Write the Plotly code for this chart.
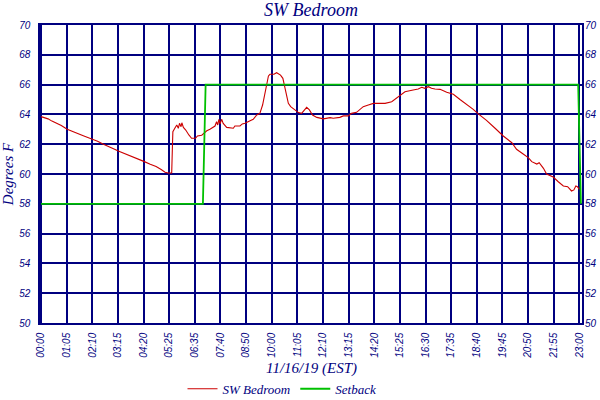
import plotly.graph_objects as go

# time of day in minutes after midnight, temperature in degrees F
sw_minutes = [0, 8, 18, 28, 40, 52, 67, 80, 95, 110, 125, 131, 145, 160, 175, 190, 198,
              212, 225, 240, 255, 265, 280, 295, 308, 318, 326, 335, 337, 338, 343, 348,
              352, 355, 359, 361, 365, 371, 379, 386, 396, 401, 412, 418, 425, 433, 442,
              446, 450, 453, 456, 459, 463, 467, 476, 489, 493, 497, 510, 516, 523, 536,
              544, 553, 561, 568, 574, 579, 583, 587, 597, 604, 614, 620, 625, 630, 634,
              640, 651, 660, 668, 677, 681, 688, 696, 707, 715, 724, 741, 749, 766, 775,
              788, 796, 809, 818, 826, 839, 852, 869, 882, 899, 907, 920, 933, 954, 967,
              976, 984, 993, 1001, 1010, 1023, 1040, 1057, 1074, 1091, 1108, 1121, 1142,
              1164, 1185, 1207, 1219, 1236, 1249, 1258, 1271, 1277, 1288, 1296, 1313,
              1326, 1339, 1350, 1360, 1366, 1371, 1375, 1380]
sw_temp = [63.85, 63.78, 63.7, 63.55, 63.4, 63.25, 63.0, 62.85, 62.7, 62.55, 62.4, 62.35,
           62.2, 62.0, 61.85, 61.65, 61.54, 61.4, 61.25, 61.1, 60.95, 60.83, 60.65, 60.5,
           60.3, 60.12, 60.07, 60.07, 62.0, 62.84, 63.07, 63.29, 63.07, 63.4, 63.17, 63.44,
           63.13, 62.95, 62.62, 62.4, 62.4, 62.55, 62.6, 62.73, 62.9, 63.0, 63.13, 63.22,
           63.51, 63.29, 63.67, 63.36, 63.67, 63.4, 63.13, 63.07, 63.07, 63.22, 63.22,
           63.36, 63.4, 63.58, 63.67, 63.96, 64.07, 64.63, 65.41, 66.09, 66.58, 66.69,
           66.69, 66.8, 66.64, 66.42, 65.86, 65.19, 64.74, 64.52, 64.3, 64.12, 64.07,
           64.34, 64.47, 64.3, 63.96, 63.8, 63.74, 63.7, 63.78, 63.74, 63.8, 63.9, 63.9,
           64.07, 64.14, 64.34, 64.52, 64.63, 64.74, 64.74, 64.74, 64.85, 65.0, 65.3,
           65.52, 65.64, 65.7, 65.82, 65.75, 65.86, 65.75, 65.7, 65.68, 65.48, 65.35,
           65.0, 64.68, 64.34, 64.03, 63.6, 63.07, 62.55, 62.1, 61.66, 61.34, 61.1,
           60.83, 60.67, 60.76, 60.38, 60.0, 59.8, 59.48, 59.2, 59.15, 58.86, 58.93,
           59.2, 59.15, 58.97]

setback_minutes = [0, 415, 422, 1377, 1384]
setback_temp = [58, 58, 66, 66, 58]

tick_labels = ['00:00', '01:05', '02:10', '03:15', '04:20', '05:25', '06:35', '07:40',
               '08:50', '10:00', '11:05', '12:10', '13:15', '14:20', '15:25', '16:30',
               '17:35', '18:40', '19:45', '20:50', '21:55', '23:00']
y_ticks = [50, 52, 54, 56, 58, 60, 62, 64, 66, 68, 70]

NAVY = '#000080'
SERIF = 'Liberation Serif'
SANS = 'Liberation Sans'

# labels are spread evenly over the day span
span = 1380
tick_vals = [i * span / (len(tick_labels) - 1) for i in range(len(tick_labels))]

fig = go.Figure()
fig.add_trace(go.Scatter(x=sw_minutes, y=sw_temp, mode='lines', name='SW Bedroom',
                         line=dict(color='#cc0000', width=1.1)))
fig.add_trace(go.Scatter(x=setback_minutes, y=setback_temp, mode='lines', name='Setback',
                         line=dict(color='#00c000', width=1.8), yaxis='y2'))

tickfont = dict(family=SANS, size=10, color=NAVY, style='italic')
axis_common = dict(showgrid=True, gridcolor=NAVY, gridwidth=1.5, zeroline=False,
                   showline=True, linecolor=NAVY, linewidth=1.5, tickfont=tickfont)

fig.update_layout(
    width=600, height=400,
    margin=dict(l=40, r=18, t=25, b=77),
    paper_bgcolor='white', plot_bgcolor='white',
    title=dict(text='SW Bedroom', x=0.5, xref='paper', y=0.975, yanchor='middle',
               font=dict(family=SERIF, size=18, color=NAVY, style='italic')),
    xaxis=dict(range=[-2.6, 1386.8], tickvals=tick_vals, ticktext=tick_labels,
               tickangle=-90, mirror=True, automargin=False, ticklabelstandoff=4,
               **axis_common),
    yaxis=dict(range=[50, 70], tickvals=y_ticks, mirror=True, automargin=False,
               ticklabelstandoff=6,
               title=dict(text='Degrees F', standoff=2,
                          font=dict(family=SERIF, size=15, color=NAVY, style='italic')),
               **axis_common),
    yaxis2=dict(range=[50, 70], tickvals=y_ticks, overlaying='y', side='right',
                showgrid=False, zeroline=False, automargin=False, ticklabelstandoff=2,
                tickfont=tickfont),
    legend=dict(orientation='h', xref='container', x=0.47, xanchor='center',
                yref='container', y=0.028, yanchor='middle',
                font=dict(family=SERIF, size=13, color=NAVY, style='italic')),
    showlegend=True,
)

# x-axis title placed below the rotated tick labels, fixed in pixels
fig.add_annotation(text='11/16/19 (EST)', xref='paper', yref='paper', x=0.5, y=0,
                   yanchor='middle', yshift=-45, showarrow=False,
                   font=dict(family=SERIF, size=15, color=NAVY, style='italic'))

# drop the page's default body margin so the 600x400 figure fills the window
fig.write_html('out.html', config={'displayModeBar': False},
               post_script="document.body.style.margin = '0px';")
